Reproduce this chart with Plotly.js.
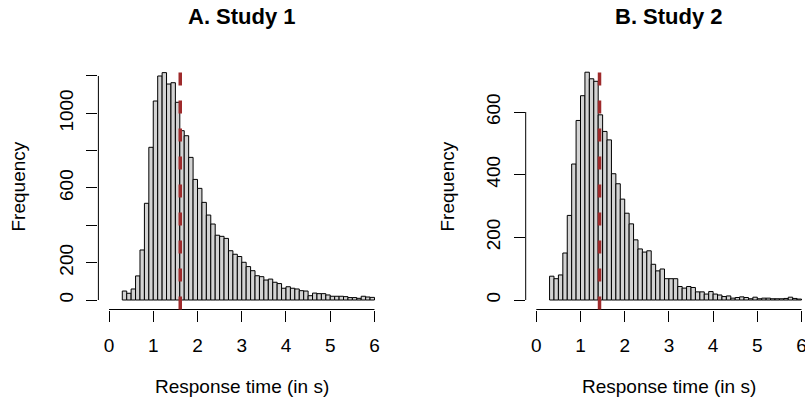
<!DOCTYPE html>
<html>
<head>
<meta charset="utf-8">
<script src="https://cdn.plot.ly/plotly-3.0.1.min.js"></script>
<style>html,body{margin:0;padding:0;background:#fff;}#chart{width:805px;height:405px;}</style>
</head>
<body>
<div id="chart"></div>
<script>
// ---- data ----
const binStart = 0.3;
const binWidth = 0.1;
const counts1 = [48, 36, 59, 129, 268, 518, 818, 1066, 1200, 1218,
  1157, 1164, 1059, 907, 880, 764, 646, 598, 523, 455,
  407, 347, 341, 330, 264, 245, 233, 202, 179, 157,
  130, 125, 107, 112, 95, 88, 63, 71, 63, 59,
  50, 48, 23, 37, 34, 34, 27, 20, 20, 20,
  18, 13, 13, 9, 20, 16, 14];
const counts2 = [76, 68, 80, 150, 270, 434, 573, 652, 727, 706,
  698, 591, 538, 511, 403, 371, 322, 277, 243, 192,
  163, 153, 157, 114, 93, 99, 68, 68, 68, 43,
  38, 43, 40, 26, 26, 19, 27, 19, 16, 11,
  13, 6, 8, 10, 8, 4, 9, 4, 6, 6,
  4, 4, 4, 5, 9, 5, 3];
const meanLines = [1.61, 1.43];
const panelTitles = ["A. Study 1", "B. Study 2"];
const xTickVals = [0, 1, 2, 3, 4, 5, 6];
const yTickVals1 = [0, 200, 400, 600, 800, 1000, 1200];
const yTickText1 = ["0", "200", "", "600", "", "1000", ""];
const yTickVals2 = [0, 200, 400, 600];
const yTickText2 = ["0", "200", "400", "600"];
const xLabel = "Response time (in s)";
const yLabel = "Frequency";

// ---- build ----
const centers = arr => arr.map((_, i) => +(binStart + binWidth * (i + 0.5)).toFixed(3));
const barStyle = {color: "#d3d3d3", line: {color: "#000", width: 1}};
const traces = [
  {type: "bar", x: centers(counts1), y: counts1, width: binWidth, marker: barStyle, xaxis: "x", yaxis: "y", hoverinfo: "x+y"},
  {type: "bar", x: centers(counts2), y: counts2, width: binWidth, marker: barStyle, xaxis: "x2", yaxis: "y2", hoverinfo: "x+y"}
];

const W = 805, H = 405;
const font = {family: "Liberation Sans, Arial, Helvetica, sans-serif", size: 19, color: "#000"};
const yDom = [(H - 309.5) / H, (H - 63.5) / H];
const axisCommon = {showgrid: false, zeroline: false, showline: false, ticks: "outside", ticklen: 11, tickwidth: 1, tickcolor: "#000", tickfont: font, fixedrange: true, ticklabeloverflow: "allow"};

const layout = {
  width: W, height: H,
  margin: {l: 0, r: 0, t: 0, b: 0},
  paper_bgcolor: "#fff", plot_bgcolor: "#fff",
  showlegend: false, bargap: 0,
  font: font,
  xaxis: Object.assign({}, axisCommon, {domain: [98.4 / W, 385.1 / W], range: [-0.24, 6.24], anchor: "y", tickvals: xTickVals, ticklabelstandoff: 8}),
  yaxis: Object.assign({}, axisCommon, {domain: yDom, range: [-50.9, 1266.9], anchor: "x", tickvals: yTickVals1, ticktext: yTickText1, tickangle: -90, ticklabelstandoff: 6}),
  xaxis2: Object.assign({}, axisCommon, {domain: [525.7 / W, 1], range: [-0.24, 6.079], anchor: "y2", tickvals: xTickVals, ticklabelstandoff: 8}),
  yaxis2: Object.assign({}, axisCommon, {domain: yDom, range: [-30.3, 754.8], anchor: "x2", tickvals: yTickVals2, ticktext: yTickText2, tickangle: -90, ticklabelstandoff: 6}),
  shapes: [],
  annotations: []
};

const panels = [
  {x: "x", y: "y", ymax: yTickVals1[yTickVals1.length - 1], mean: meanLines[0], title: panelTitles[0], ytitleX: 18},
  {x: "x2", y: "y2", ymax: yTickVals2[yTickVals2.length - 1], mean: meanLines[1], title: panelTitles[1], ytitleX: 447}
];
panels.forEach(p => {
  // R-style detached axis lines
  layout.shapes.push({type: "line", xref: p.x, yref: p.y + " domain", x0: xTickVals[0], x1: xTickVals[xTickVals.length - 1], y0: 0, y1: 0, line: {color: "#000", width: 1}});
  layout.shapes.push({type: "line", xref: p.x + " domain", yref: p.y, x0: 0, x1: 0, y0: 0, y1: p.ymax, line: {color: "#000", width: 1}});
  // dashed reference line
  layout.shapes.push({type: "line", xref: p.x, yref: p.y + " domain", x0: p.mean, x1: p.mean, y0: 0, y1: 1, line: {color: "#9e2a2b", width: 3.5, dash: "13px,15px"}});
  layout.annotations.push({text: "<b>" + p.title + "</b>", xref: p.x, yref: "paper", x: 3, y: (H - 17) / H, xanchor: "center", yanchor: "middle", showarrow: false, font: {family: font.family, size: 22, color: "#000"}});
  layout.annotations.push({text: xLabel, xref: p.x, yref: "paper", x: 3, y: (H - 386) / H, xanchor: "center", yanchor: "middle", showarrow: false, font: font});
  layout.annotations.push({text: yLabel, xref: "paper", yref: p.y + " domain", x: p.ytitleX / W, y: 0.5, xanchor: "center", yanchor: "middle", textangle: -90, showarrow: false, font: font});
});

Plotly.newPlot("chart", traces, layout, {displayModeBar: false, staticPlot: true});
</script>
</body>
</html>
